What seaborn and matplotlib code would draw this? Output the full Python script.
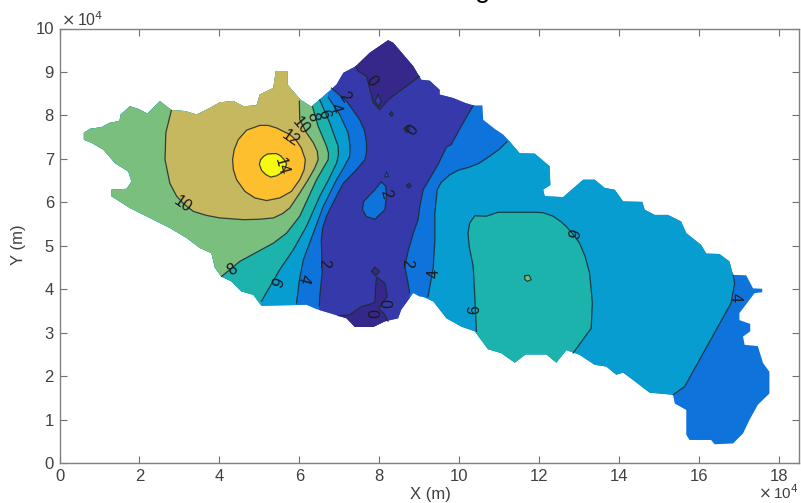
import matplotlib
matplotlib.use("Agg")
import matplotlib.pyplot as plt
from matplotlib.patches import Polygon
import seaborn as sns

sns.set_theme(style="ticks")
plt.rcParams["font.family"] = ["Liberation Sans", "DejaVu Sans"]

# everything in units of 1e4 m
outline_x = [.61, .76, 1.05, 1.26, 1.50, 1.53, 1.76, 1.97, 2.2, 2.51, 2.8, 3.14, 3.43, 3.72, 4.01, 4.35, 4.6, 4.93,
             5.01, 5.35, 5.41, 5.7, 5.7, 6.03, 6.3, 6.6, 6.93, 7.1, 7.41, 7.76, 8.22, 8.35, 8.85, 9.05, 9.26, 9.51,
             9.51, 9.85, 10.14, 10.35, 10.58, 10.6, 10.89, 11.1, 11.26, 11.51, 11.89, 12.26, 12.28, 12.1, 12.14,
             12.6, 13.1, 13.39, 13.64, 13.89, 14.1, 14.58, 14.64, 14.89, 15.22, 15.55, 15.68, 16.05, 16.18, 16.51,
             16.76, 16.85, 17.18, 17.35, 17.58, 17.58, 17.39, 17.01, 17.01, 17.28, 17.28, 17.1, 17.14, 17.47, 17.6,
             17.76, 17.76, 17.47, 17.26, 17.1, 16.85, 16.39, 16.3, 15.76, 15.68, 15.68, 15.39, 15.35, 14.76, 14.35,
             14.1, 13.93, 13.68, 13.39, 13.01, 12.68, 12.43, 12.18, 11.66, 11.39, 11.05, 10.72, 10.39, 10.05, 9.68,
             9.35, 9.1, 9.01, 8.85, 8.55, 8.47, 8.14, 7.85, 7.39, 7.18, 6.76, 6.43, 6.18, 5.05, 4.85, 4.55, 4.3,
             4.05, 3.89, 3.8, 3.51, 3.18, 2.76, 2.35, 1.76, 1.3, 1.3, 1.68, 1.8, 1.72, 1.39, 1.1, .8, .61]
outline_y = [7.6, 7.69, 7.73, 7.83, 7.87, 8.02, 8.21, 8.15, 8.04, 8.33, 8.12, 8.1, 8.02, 8.15, 8.30, 8.33, 8.21, 8.23,
             8.48, 8.63, 9.02, 9.02, 8.71, 8.36, 8.2, 8.44, 8.71, 8.98, 9.13, 9.44, 9.73, 9.67, 9.13, 8.82, 8.8, 8.59,
             8.48, 8.4, 8.29, 8.23, 8.23, 7.9, 7.69, 7.56, 7.4, 7.13, 7.12, 6.83, 6.4, 6.29, 6.14,
             6.12, 6.52, 6.52, 6.33, 6.29, 6.02, 6.01, 5.83, 5.71, 5.71, 5.56, 5.29, 5.02, 4.82, 4.81,
             4.64, 4.33, 4.32, 4.02, 4.01, 3.93, 3.91, 3.45, 3.29, 3.2, 3.03, 2.91, 2.72, 2.69, 2.3,
             2.1, 1.6, 1.34, .99, .68, .45, .43, .53, .53, .65, 1.22, 1.37, 1.57, 1.62, 1.91,
             2.08, 2.03, 2.22, 2.26, 2.49, 2.6, 2.31, 2.5, 2.5, 2.31, 2.53, 2.62, 3.03, 3.14, 3.33,
             3.72, 3.82, 3.83, 3.91, 3.53, 3.33, 3.26, 3.13, 3.13, 3.33, 3.45, 3.54, 3.64, 3.62, 3.87, 3.95, 4.18,
             4.29, 4.49, 4.83, 4.95, 5.18, 5.41, 5.6, 5.87, 6.14, 6.29, 6.31, 6.48, 6.71, 6.9, 7.21, 7.37, 7.44]

# contour lines, west side
c2w_x = [6.8, 7.18, 7.51, 7.63, 7.68, 7.68, 7.64, 7.4, 7.1, 6.85, 6.68, 6.58, 6.55, 6.57, 6.51, 6.5]
c2w_y = [8.63, 8.33, 7.9, 7.65, 7.37, 7.15, 6.98, 6.72, 6.44, 6.0, 5.68, 5.4, 5.14, 4.37, 3.83, 3.62]
c4w_x = [6.72, 7.01, 7.22, 7.27, 7.26, 7.1, 6.93, 6.6, 6.35, 6.1, 6.0, 5.93]
c4w_y = [8.42, 8.02, 7.6, 7.3, 7.06, 6.78, 6.52, 5.91, 5.29, 4.68, 4.2, 3.68]
c6w_x = [6.51, 6.76, 6.97, 6.98, 6.93, 6.72, 6.51, 6.18, 5.85, 5.51, 5.05]
c6w_y = [8.36, 7.83, 7.29, 7.1, 6.9, 6.5, 6.14, 5.45, 4.91, 4.45, 3.72]
c8w_x = [6.33, 6.47, 6.68, 6.73, 6.72, 6.43, 6.01, 5.68, 5.35, 4.51, 4.05]
c8w_y = [8.2, 7.75, 7.29, 7.13, 6.98, 6.52, 5.68, 5.29, 5.06, 4.64, 4.29]
c10_x = [2.8, 2.66, 2.64, 2.76, 2.93, 3.1, 3.35, 3.67, 4.01, 4.6, 5.0, 5.35, 5.58, 5.76, 5.98, 6.22, 6.38, 6.47,
         6.45, 6.35, 6.18, 6.01, 6.0]
c10_y = [8.12, 7.6, 6.98, 6.44, 6.14, 5.97, 5.79, 5.7, 5.64, 5.6, 5.61, 5.64, 5.74, 5.87, 6.17, 6.52, 6.78, 6.98,
         7.17, 7.37, 7.6, 7.9, 8.33]
c12_x = [5.01, 5.22, 5.43, 5.76, 5.91, 6.05, 6.15, 6.12, 6.01, 5.8, 5.51, 5.18, 4.89, 4.64, 4.43, 4.35, 4.33, 4.37,
         4.47, 4.68, 5.01]
c12_y = [7.77, 7.77, 7.71, 7.56, 7.44, 7.25, 6.98, 6.75, 6.52, 6.25, 6.1, 6.04, 6.1, 6.25, 6.52, 6.75, 6.98, 7.21,
         7.44, 7.66, 7.77]
c14_x = [5.3, 5.43, 5.53, 5.61, 5.68, 5.65, 5.58, 5.43, 5.28, 5.16, 5.06, 5.0, 5.03, 5.11, 5.2, 5.3]
c14_y = [7.12, 7.12, 7.07, 6.99, 6.89, 6.79, 6.69, 6.61, 6.58, 6.64, 6.73, 6.87, 6.98, 7.06, 7.11, 7.12]

# contour lines, east side
c2e_x = [10.35, 10.05, 9.8, 9.68, 9.47, 9.1, 9.02, 8.97, 8.85, 8.72, 8.64, 8.72, 8.76]
c2e_y = [8.23, 7.75, 7.33, 7.27, 6.87, 6.29, 5.94, 5.6, 5.29, 4.87, 4.52, 4.14, 3.91]
c4e_x = [11.2, 11.0, 10.76, 10.5, 10.26, 9.98, 9.76, 9.55, 9.45, 9.39, 9.39, 9.35, 9.22]
c4e_y = [7.4, 7.22, 7.06, 6.9, 6.81, 6.74, 6.63, 6.46, 6.29, 5.75, 5.13, 4.5, 3.83]
c4f_x = [15.35, 15.64, 16.8, 16.89, 16.85]
c4f_y = [1.57, 1.76, 3.68, 4.14, 4.33]
c6e_x = [10.43, 10.39, 10.35, 10.25, 10.22, 10.26, 10.39, 10.68, 10.97, 11.93, 12.1, 12.35, 12.55, 12.68, 12.85,
         13.01, 13.15, 13.26, 13.3, 13.33, 13.3, 12.85]
c6e_y = [3.03, 3.83, 4.52, 4.98, 5.29, 5.52, 5.69, 5.68, 5.77, 5.77, 5.76, 5.68, 5.55, 5.44, 5.26,
         5.06, 4.75, 4.37, 4.0, 3.68, 3.1, 2.53]
c8e_x = [11.64, 11.75, 11.8, 11.7, 11.64, 11.64]
c8e_y = [4.31, 4.32, 4.22, 4.18, 4.23, 4.31]

# zero lines and the small pockets in the trough
c0t_x = [7.41, 7.47, 7.68, 7.8, 7.85, 8.01, 8.22, 8.51, 9.01]
c0t_y = [9.13, 9.02, 8.9, 8.48, 8.29, 8.13, 8.36, 8.56, 8.9]
c0b_x = [6.97, 7.26, 7.55, 7.89, 7.91, 7.93, 8.14, 8.2, 7.99, 8.14, 8.22]
c0b_y = [3.39, 3.41, 3.6, 3.69, 4.06, 4.28, 4.14, 3.83, 3.56, 3.41, 3.26]
hole_x = [7.97, 8.05, 7.99, 7.89, 7.97]
hole_y = [8.48, 8.33, 8.2, 8.33, 8.48]
diam_x = [7.89, 8.01, 7.91, 7.8, 7.89]
diam_y = [4.51, 4.41, 4.31, 4.41, 4.51]
blob_x = [8.05, 8.16, 8.18, 8.14, 7.89, 7.68, 7.58, 7.61, 7.89, 8.05]
blob_y = [6.47, 6.37, 6.14, 5.83, 5.61, 5.67, 5.83, 6.02, 6.29, 6.47]
tiny_x = [8.18, 8.23, 8.14, 8.18]
tiny_y = [6.7, 6.6, 6.58, 6.7]
spot1_x = [8.68, 8.75, 8.8, 8.73, 8.68]
spot1_y = [6.39, 6.44, 6.37, 6.33, 6.39]
spot2_x = [8.26, 8.3, 8.35, 8.3, 8.26]
spot2_y = [8.03, 8.09, 8.02, 7.98, 8.03]
spot3_x = [8.62, 8.74, 8.76, 8.68, 8.62]
spot3_y = [7.7, 7.76, 7.68, 7.6, 7.7]

# level colours: <0, 0-2, 2-4, 4-6, 6-8, 8-10, 10-12, 12-14, >14
band_colors = ["#36288a", "#3639a9", "#0f73dc", "#079dd0", "#1cb3ad", "#7bbf7e", "#c6b85e", "#fdbf2e", "#f6fa10"]
pal = sns.color_palette(band_colors)

# label text, x, y, rotation
labels = [("0", 7.8, 8.79, -55), ("0", 8.72, 7.73, -125), ("2", 7.14, 8.42, -55), ("4", 6.89, 8.17, -75),
          ("6", 6.6, 8.02, -75), ("8", 6.32, 7.97, -80), ("10", 6.05, 7.76, -50), ("12", 5.78, 7.46, -35),
          ("14", 5.54, 6.83, -75), ("10", 3.07, 5.96, -35), ("2", 8.16, 6.2, -75), ("8", 4.32, 4.45, 35),
          ("6", 5.37, 4.19, -115), ("4", 6.1, 4.25, -105), ("2", 6.6, 4.6, -90), ("2", 8.68, 4.6, -90),
          ("0", 8.11, 3.68, -90), ("0", 7.8, 3.45, -90), ("4", 9.36, 4.37, 90), ("6", 10.39, 3.52, 90),
          ("6", 12.8, 5.29, -110), ("4", 16.89, 3.82, -90)]

xticks = [0, 2, 4, 6, 8, 10, 12, 14, 16, 18]
yticks = [0, 1, 2, 3, 4, 5, 6, 7, 8, 9, 10]

fig = plt.figure(figsize=(8.01, 5.03), dpi=100)
ax = fig.add_axes([59.5 / 801, 40 / 503, 739.5 / 801, 434.5 / 503])
ax.set_xlim(0, 18.5)
ax.set_ylim(0, 10)

domain = Polygon(list(zip(outline_x, outline_y)), closed=True, facecolor=pal[2], edgecolor="none")
ax.add_patch(domain)


def band(xs, ys, idx):
    # contour line closed outside the domain, clipped back to the outline
    poly = ax.fill(xs, ys, color=pal[idx], linewidth=0)[0]
    poly.set_clip_path(domain)


# west high, painted from the outside in
band(c4w_x + [5.93, 0, 0, 6.72], c4w_y + [2, 2, 10, 10], 3)
band(c6w_x + [5.05, 0, 0, 6.51], c6w_y + [2, 2, 10, 10], 4)
band(c8w_x + [4.05, 0, 0, 6.33], c8w_y + [2, 2, 10, 10], 5)
band(c10_x + [6.0, 2.8], c10_y + [10, 10], 6)
band(c12_x, c12_y, 7)
band(c14_x, c14_y, 8)

# central trough
band(c2w_x + [6.5] + [8.76] + c2e_x[::-1] + [10.35, 6.8], c2w_y + [2.9] + [2.9] + c2e_y[::-1] + [10, 10], 1)
band(c0t_x + [9.5, 7.0], c0t_y + [10, 10], 0)
band(c0b_x + [8.22, 6.97], c0b_y + [2.9, 2.9], 0)
band(hole_x, hole_y, 1)
band(diam_x, diam_y, 0)
band(spot1_x, spot1_y, 0)
band(spot2_x, spot2_y, 0)
band(spot3_x, spot3_y, 0)
band(blob_x, blob_y, 2)
band(tiny_x, tiny_y, 2)

# east plateau
band(c4e_x + [9.22, 15.0] + c4f_x + [16.85, 11.2], c4e_y + [1.0, 1.0] + c4f_y + [8.5, 8.5], 3)
band(c6e_x + [12.85, 10.43], c6e_y + [2, 2], 4)
band(c8e_x, c8e_y, 5)

lines = [(c2w_x, c2w_y), (c4w_x, c4w_y), (c6w_x, c6w_y), (c8w_x, c8w_y), (c10_x, c10_y), (c12_x, c12_y),
         (c14_x, c14_y), (c2e_x, c2e_y), (c4e_x, c4e_y), (c4f_x, c4f_y), (c6e_x, c6e_y), (c8e_x, c8e_y),
         (c0t_x, c0t_y), (c0b_x, c0b_y), (hole_x, hole_y), (diam_x, diam_y), (blob_x, blob_y), (tiny_x, tiny_y),
         (spot1_x, spot1_y), (spot2_x, spot2_y), (spot3_x, spot3_y)]
for lx, ly in lines:
    sns.lineplot(x=lx, y=ly, sort=False, estimator=None, color="#1c2a30", linewidth=0.9, alpha=0.85,
                 legend=False, ax=ax)

for txt, tx, ty, rot in labels:
    ax.text(tx, ty, txt, fontsize=11.5, color="#1a1a1a", rotation=rot, rotation_mode="anchor",
            ha="center", va="center")

ax.set_xticks(xticks)
ax.set_yticks(yticks)
ax.set_xticklabels([str(t) for t in xticks])
ax.set_yticklabels([str(t) for t in yticks])
ax.tick_params(direction="in", length=5, width=0.8, color="#707070", labelcolor="#404040", labelsize=12,
               top=True, right=True, pad=4)
for s in ax.spines.values():
    s.set_color("#808080")
    s.set_linewidth(1.0)

fig.text(430 / 801, 1 - 494 / 503, "X (m)", fontsize=12, color="#404040", ha="center", va="center")
fig.text(18 / 801, 1 - 245 / 503, "Y (m)", fontsize=12, color="#404040", ha="center", va="center", rotation=90)
fig.text(61 / 801, 1 - 20 / 503, r"$\times\,$10$^{4}$", fontsize=11.5, color="#404040", ha="left", va="center")
fig.text(758 / 801, 1 - 493 / 503, r"$\times\,$10$^{4}$", fontsize=11, color="#404040", ha="left", va="center")
# bottom of the title, cropped off in the source image
fig.text(483 / 801, 1 - (-3) / 503, "g", fontsize=20, color="black", ha="center", va="baseline")

fig.savefig("out.png", dpi=100)
plt.close(fig)
